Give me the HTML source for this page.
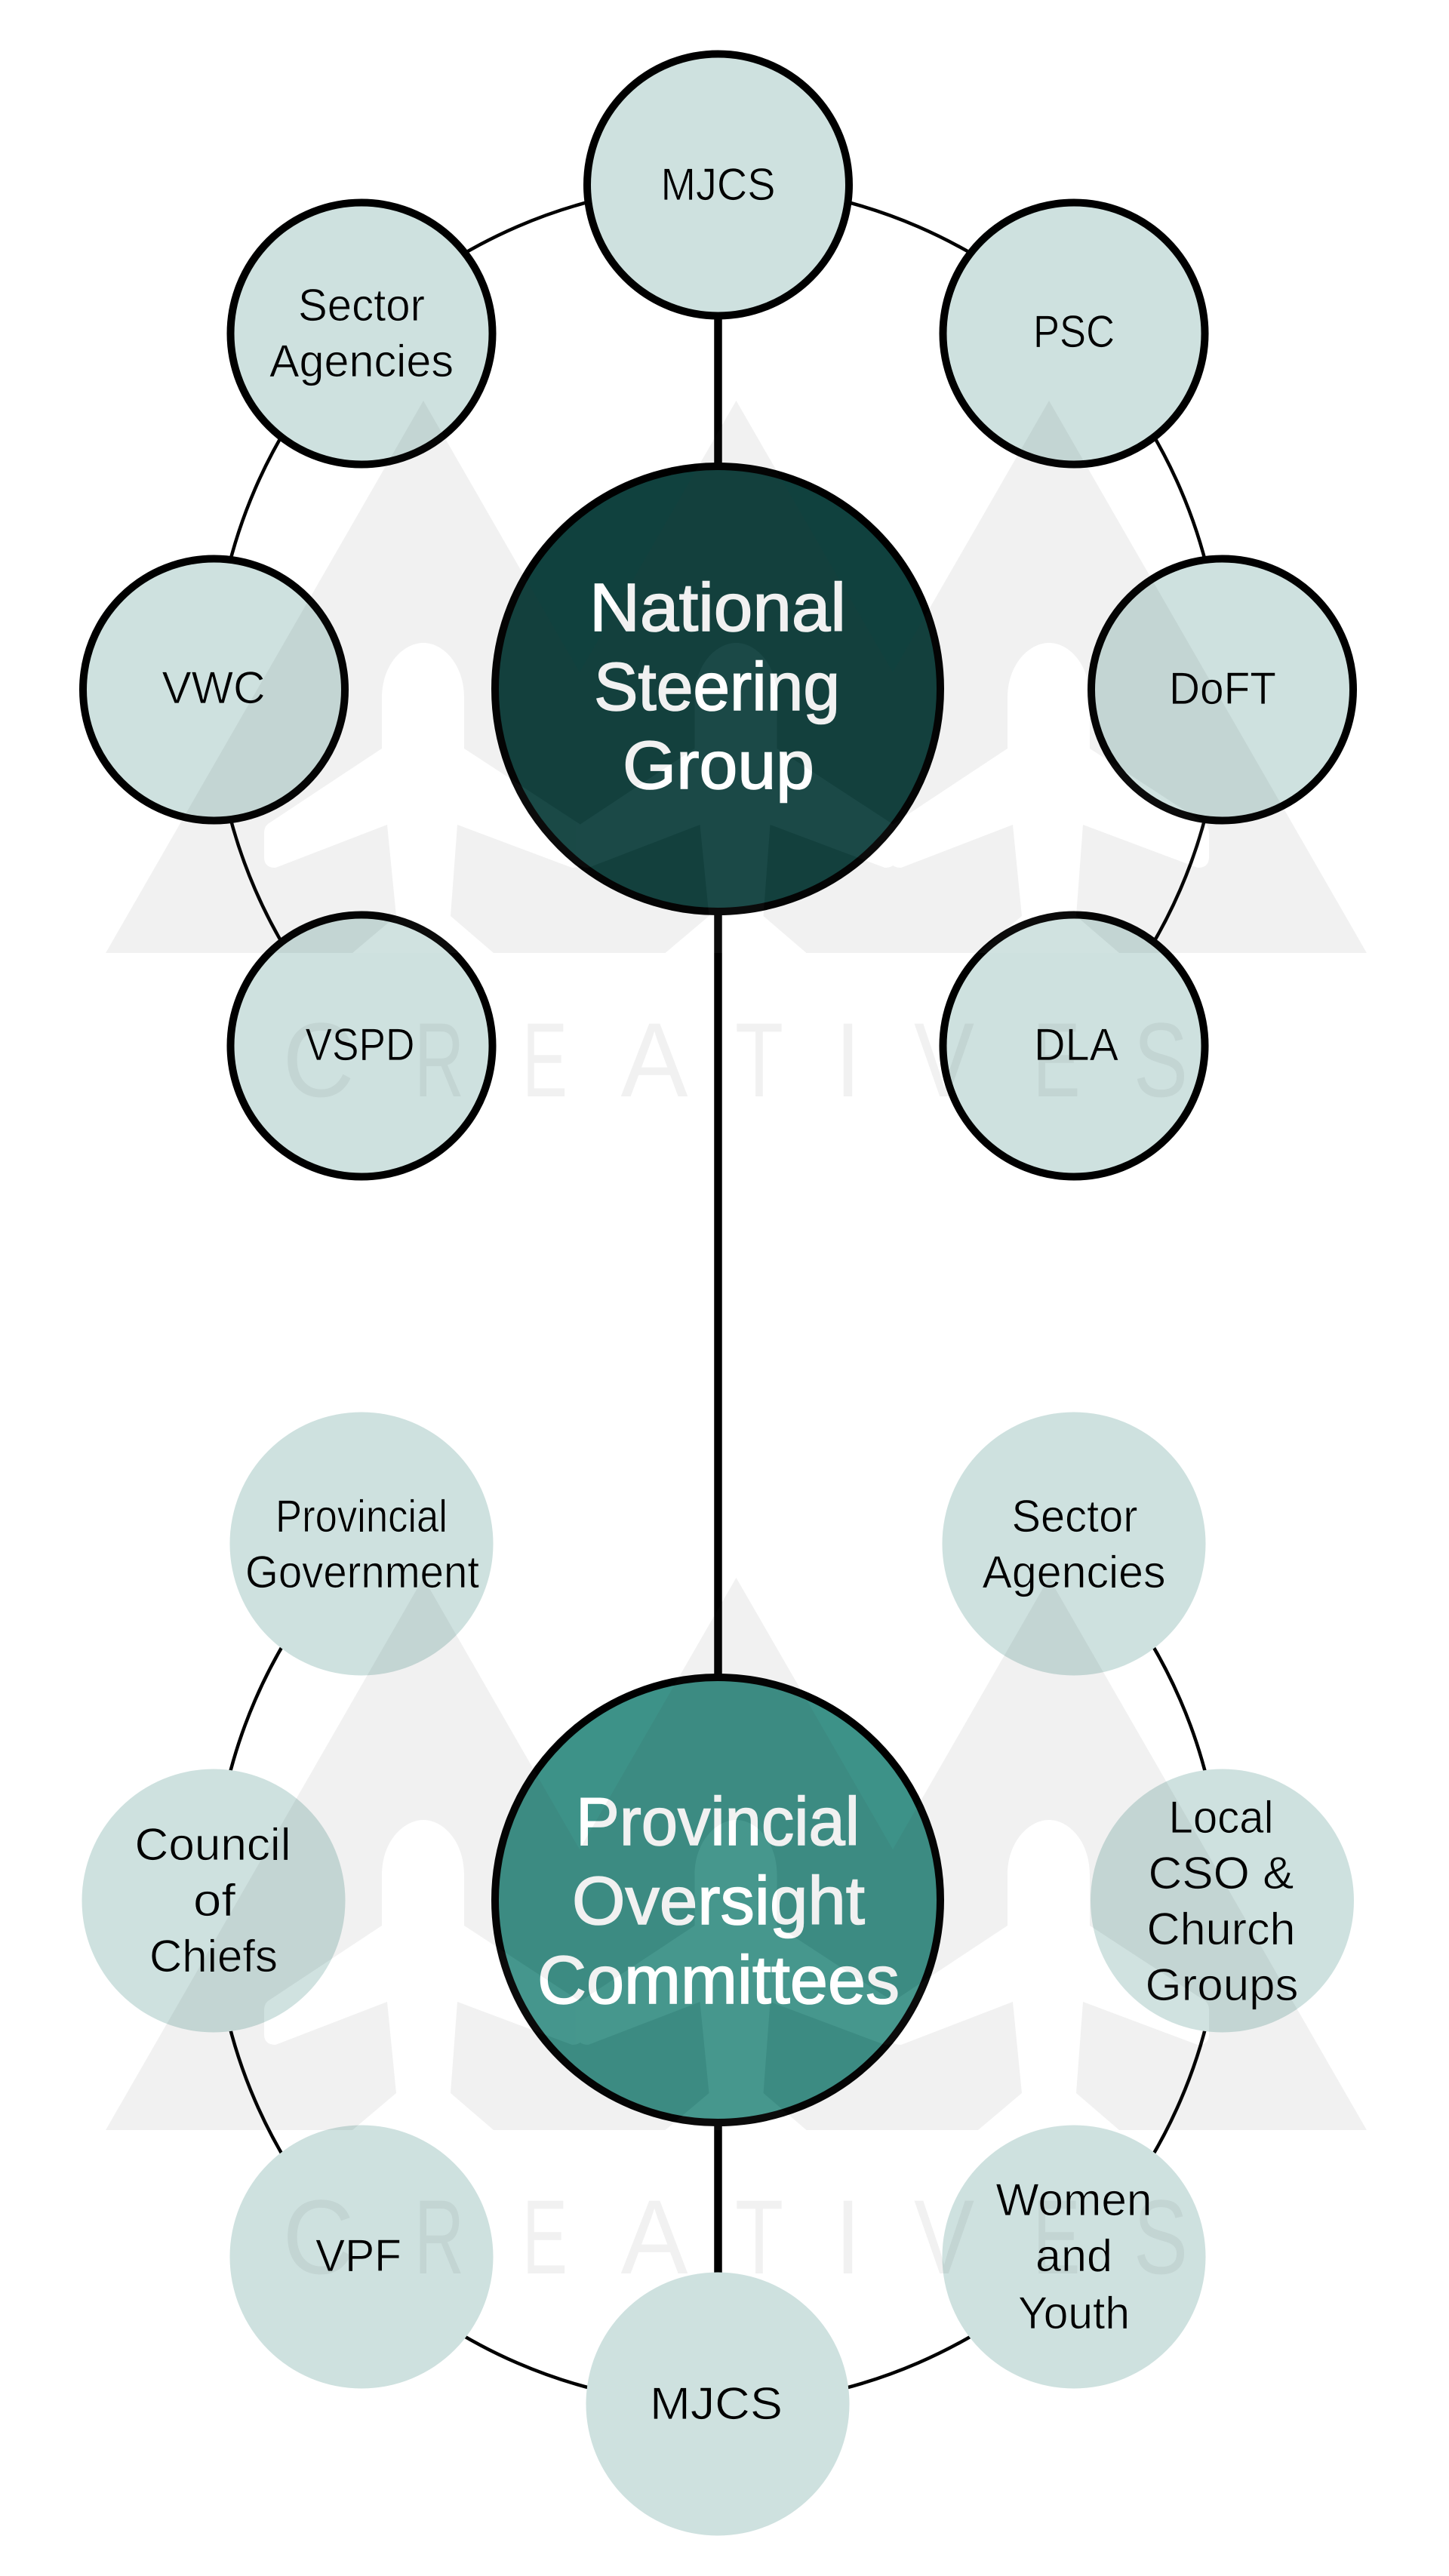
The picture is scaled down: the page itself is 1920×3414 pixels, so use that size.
<!DOCTYPE html>
<html>
<head>
<meta charset="utf-8">
<style>
html,body{margin:0;padding:0;background:#fff;}
svg{display:block;}
text{font-family:"Liberation Sans",sans-serif;text-anchor:middle;}
.l{font-size:60px;fill:#000;stroke:#cee1df;stroke-width:.8px;}
.h{font-size:90px;fill:#fff;stroke:#fff;stroke-width:1.6px;}
.w{font-size:140px;}
</style>
</head>
<body>
<svg width="1920" height="3414" viewBox="0 0 1920 3414" xmlns="http://www.w3.org/2000/svg">
<defs>
<path id="p" d="M506 925C506 880 535 852 561 852C587 852 615 880 615 925L615 992L768 1092Q773 1096 773 1104L773 1136Q773 1150 758 1150L606 1093L597 1214L654 1263L467 1263L525 1214L513 1093L365 1150Q350 1150 350 1136L350 1104Q350 1096 355 1092L506 992Z"/>
<mask id="m" maskUnits="userSpaceOnUse" x="0" y="400" width="1920" height="1100">
<rect x="0" y="400" width="1920" height="1100" fill="#fff"/>
<use href="#p" fill="#000"/>
<use href="#p" x="414.5" fill="#000"/>
<use href="#p" x="829" fill="#000"/>
</mask>
</defs>
<rect width="1920" height="3414" fill="#fff"/>

<!-- connectors -->
<path d="M479 1386A668 668 0 1 1 1423 1386" fill="none" stroke="#000" stroke-width="4.5"/>
<path d="M479 2046A668 668 0 1 0 1423 2046" fill="none" stroke="#000" stroke-width="4.5"/>
<line x1="951.5" y1="245" x2="951.5" y2="3186" stroke="#000" stroke-width="10.5"/>

<!-- top nodes -->
<g fill="#cee1df" stroke="#000" stroke-width="10">
<circle cx="951.5" cy="245" r="173.5"/>
<circle cx="479" cy="442" r="173.5"/>
<circle cx="1423" cy="442" r="173.5"/>
<circle cx="283.5" cy="914" r="173.5"/>
<circle cx="1619.5" cy="914" r="173.5"/>
<circle cx="479" cy="1386" r="173.5"/>
<circle cx="1423" cy="1386" r="173.5"/>
</g>
<circle cx="951" cy="913" r="295" fill="#10413e" stroke="#000" stroke-width="10"/>

<!-- bottom nodes -->
<g fill="#cee1df">
<circle cx="479" cy="2046" r="174.5"/>
<circle cx="1423" cy="2046" r="174.5"/>
<circle cx="283" cy="2519" r="174.5"/>
<circle cx="1619.5" cy="2519" r="174.5"/>
<circle cx="479" cy="2991" r="174.5"/>
<circle cx="1423" cy="2991" r="174.5"/>
<circle cx="951" cy="3186" r="174.5"/>
</g>
<circle cx="951" cy="2518" r="295" fill="#3d9288" stroke="#000" stroke-width="10"/>

<!-- top labels -->
<text class="l" x="951.5" y="265" textLength="152" lengthAdjust="spacingAndGlyphs">MJCS</text>
<text class="l" x="479" y="425" textLength="168" lengthAdjust="spacingAndGlyphs">Sector</text>
<text class="l" x="479" y="499" textLength="244" lengthAdjust="spacingAndGlyphs">Agencies</text>
<text class="l" x="1423" y="460" textLength="108" lengthAdjust="spacingAndGlyphs">PSC</text>
<text class="l" x="283" y="932" textLength="137" lengthAdjust="spacingAndGlyphs">VWC</text>
<text class="l" x="1620" y="933" textLength="142" lengthAdjust="spacingAndGlyphs">DoFT</text>
<text class="l" x="477" y="1405" textLength="145" lengthAdjust="spacingAndGlyphs">VSPD</text>
<text class="l" x="1426" y="1405" textLength="112" lengthAdjust="spacingAndGlyphs">DLA</text>
<text class="h" x="951" y="836" textLength="340" lengthAdjust="spacingAndGlyphs">National</text>
<text class="h" x="950" y="941" textLength="326" lengthAdjust="spacingAndGlyphs">Steering</text>
<text class="h" x="952" y="1045" textLength="254" lengthAdjust="spacingAndGlyphs">Group</text>

<!-- bottom labels -->
<text class="l" x="479" y="2030" textLength="228" lengthAdjust="spacingAndGlyphs">Provincial</text>
<text class="l" x="480" y="2104" textLength="310" lengthAdjust="spacingAndGlyphs">Government</text>
<text class="l" x="1424" y="2030" textLength="167" lengthAdjust="spacingAndGlyphs">Sector</text>
<text class="l" x="1423" y="2104" textLength="243" lengthAdjust="spacingAndGlyphs">Agencies</text>
<text class="l" x="282" y="2465" textLength="207" lengthAdjust="spacingAndGlyphs">Council</text>
<text class="l" x="284" y="2539" textLength="56" lengthAdjust="spacingAndGlyphs">of</text>
<text class="l" x="283" y="2613" textLength="170" lengthAdjust="spacingAndGlyphs">Chiefs</text>
<text class="l" x="1618" y="2429" textLength="139" lengthAdjust="spacingAndGlyphs">Local</text>
<text class="l" x="1618" y="2503" textLength="193" lengthAdjust="spacingAndGlyphs">CSO &amp;</text>
<text class="l" x="1618" y="2577" textLength="197" lengthAdjust="spacingAndGlyphs">Church</text>
<text class="l" x="1619" y="2651" textLength="203" lengthAdjust="spacingAndGlyphs">Groups</text>
<text class="l" x="475" y="3010" textLength="114" lengthAdjust="spacingAndGlyphs">VPF</text>
<text class="l" x="1423" y="2936" textLength="207" lengthAdjust="spacingAndGlyphs">Women</text>
<text class="l" x="1423" y="3010" textLength="102" lengthAdjust="spacingAndGlyphs">and</text>
<text class="l" x="1423" y="3086" textLength="148" lengthAdjust="spacingAndGlyphs">Youth</text>
<text class="l" x="949" y="3206" textLength="176" lengthAdjust="spacingAndGlyphs">MJCS</text>
<text class="h" x="951" y="2445" textLength="376" lengthAdjust="spacingAndGlyphs">Provincial</text>
<text class="h" x="952" y="2550" textLength="388" lengthAdjust="spacingAndGlyphs">Oversight</text>
<text class="h" x="952" y="2655" textLength="480" lengthAdjust="spacingAndGlyphs">Committees</text>

<!-- watermark top -->
<g>
<g mask="url(#m)" fill="#3c3c3c" opacity="0.065">
<path d="M561 531L768 891L975.5 531L1183 891L1390 531L1811 1263L140 1263Z"/>
</g>
<g fill="#fff" opacity="0.045">
<use href="#p"/><use href="#p" x="414.5"/><use href="#p" x="829"/>
</g>
<g fill="#3c3c3c" opacity="0.065">
<text class="w" x="422" y="1453" textLength="95" lengthAdjust="spacingAndGlyphs">C</text>
<text class="w" x="582" y="1453" textLength="66" lengthAdjust="spacingAndGlyphs">R</text>
<text class="w" x="722" y="1453" textLength="60" lengthAdjust="spacingAndGlyphs">E</text>
<text class="w" x="867" y="1453" textLength="89" lengthAdjust="spacingAndGlyphs">A</text>
<text class="w" x="1006" y="1453" textLength="64" lengthAdjust="spacingAndGlyphs">T</text>
<text class="w" x="1123.5" y="1453" textLength="34" lengthAdjust="spacingAndGlyphs">I</text>
<text class="w" x="1251" y="1453" textLength="80" lengthAdjust="spacingAndGlyphs">V</text>
<text class="w" x="1400" y="1453" textLength="63" lengthAdjust="spacingAndGlyphs">E</text>
<text class="w" x="1538" y="1453" textLength="72" lengthAdjust="spacingAndGlyphs">S</text>
</g>
</g>

<!-- watermark bottom -->
<g transform="translate(0 1560)">
<g mask="url(#m)" fill="#3c3c3c" opacity="0.065">
<path d="M561 531L768 891L975.5 531L1183 891L1390 531L1811 1263L140 1263Z"/>
</g>
<g fill="#fff" opacity="0.045">
<use href="#p"/><use href="#p" x="414.5"/><use href="#p" x="829"/>
</g>
<g fill="#3c3c3c" opacity="0.065">
<text class="w" x="422" y="1453" textLength="95" lengthAdjust="spacingAndGlyphs">C</text>
<text class="w" x="582" y="1453" textLength="66" lengthAdjust="spacingAndGlyphs">R</text>
<text class="w" x="722" y="1453" textLength="60" lengthAdjust="spacingAndGlyphs">E</text>
<text class="w" x="867" y="1453" textLength="89" lengthAdjust="spacingAndGlyphs">A</text>
<text class="w" x="1006" y="1453" textLength="64" lengthAdjust="spacingAndGlyphs">T</text>
<text class="w" x="1123.5" y="1453" textLength="34" lengthAdjust="spacingAndGlyphs">I</text>
<text class="w" x="1251" y="1453" textLength="80" lengthAdjust="spacingAndGlyphs">V</text>
<text class="w" x="1400" y="1453" textLength="63" lengthAdjust="spacingAndGlyphs">E</text>
<text class="w" x="1538" y="1453" textLength="72" lengthAdjust="spacingAndGlyphs">S</text>
</g>
</g>
</svg>
</body>
</html>
